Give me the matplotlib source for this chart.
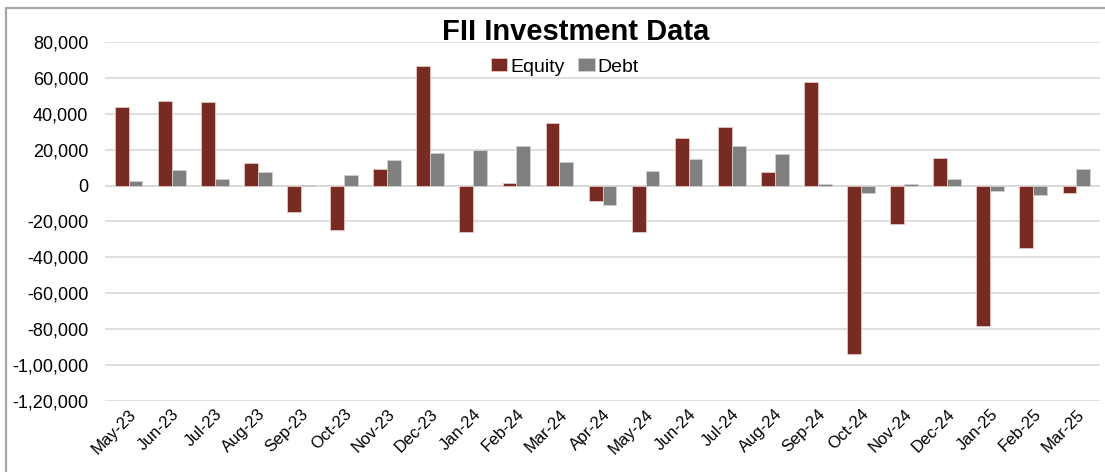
import numpy as np
import matplotlib
matplotlib.use('Agg')
import matplotlib.pyplot as plt
from matplotlib.patches import Rectangle
from matplotlib.ticker import FuncFormatter

months = ["May-23", "Jun-23", "Jul-23", "Aug-23", "Sep-23", "Oct-23", "Nov-23", "Dec-23",
          "Jan-24", "Feb-24", "Mar-24", "Apr-24", "May-24", "Jun-24", "Jul-24", "Aug-24",
          "Sep-24", "Oct-24", "Nov-24", "Dec-24", "Jan-25", "Feb-25", "Mar-25"]
equity = [43800, 47300, 46700, 12500, -14800, -24500, 9100, 66500,
          -25700, 1500, 35100, -8700, -25600, 26600, 32400, 7300,
          57700, -94000, -21600, 15500, -78000, -34600, -3900]
debt = [2800, 8700, 3400, 7300, 500, 6100, 14500, 18100,
        19600, 22200, 13200, -10600, 8400, 14700, 22200, 17700,
        1000, -4000, 1000, 3400, -3000, -5000, 9300]


def indian_fmt(v, pos):
    # Excel style lakh grouping: 1,00,000
    n = int(round(abs(v)))
    s = str(n)
    if len(s) > 3:
        head, tail = s[:-3], s[-3:]
        parts = []
        while len(head) > 2:
            parts.insert(0, head[-2:])
            head = head[:-2]
        if head:
            parts.insert(0, head)
        s = ",".join(parts) + "," + tail
    return ("-" if v < 0 else "") + s


plt.rcParams['font.family'] = ['Liberation Sans', 'DejaVu Sans']

W, H = 1105, 472
fig = plt.figure(figsize=(W / 100, H / 100), dpi=100)
# chart frame, only left and top edges fall inside the picture
fig.patches.append(Rectangle((6 / W, -20 / H), 1.2, (H - 8 + 20) / H,
                             transform=fig.transFigure, fill=False,
                             edgecolor='#A6A6A6', linewidth=1.6))
ax = fig.add_axes([105 / W, 71 / H, 995 / W, 359 / H])

x = np.arange(len(months))
w = 0.32
ax.bar(x - w / 2, equity, w, color='#772B23', edgecolor='#E8C8C4', linewidth=0.6,
       label='Equity', zorder=3)
ax.bar(x + w / 2, debt, w, color='#808080', edgecolor='#D0D0D0', linewidth=0.6,
       label='Debt', zorder=3)

ax.set_ylim(-120000, 80000)
ax.set_xlim(-0.55, len(months) - 0.45)
ax.set_yticks(np.arange(-120000, 80001, 20000))
ax.yaxis.set_major_formatter(FuncFormatter(indian_fmt))
ax.grid(axis='y', color='#D9D9D9', linewidth=1.2, zorder=0)
ax.axhline(0, color='#D9D9D9', linewidth=1.2, zorder=1)
for s in ax.spines.values():
    s.set_visible(False)
ax.tick_params(axis='both', length=0)
ax.tick_params(axis='y', pad=12, labelsize=13)
ax.tick_params(axis='x', pad=4, labelsize=12)
ax.set_xticks(x)
ax.set_xticklabels(months, rotation=45, ha='right', rotation_mode='anchor')

fig.text(0.521, 0.932, 'FII Investment Data', ha='center', va='center',
         fontsize=21, fontweight='bold')
ax.legend(loc='center', bbox_to_anchor=((565 - 105) / 995, (H - 67 - 71) / 359),
          ncol=2, frameon=False, fontsize=14, handlelength=0.85, handleheight=0.6,
          handletextpad=0.15, columnspacing=0.7, borderpad=0)

fig.savefig('out.png', dpi=100)
